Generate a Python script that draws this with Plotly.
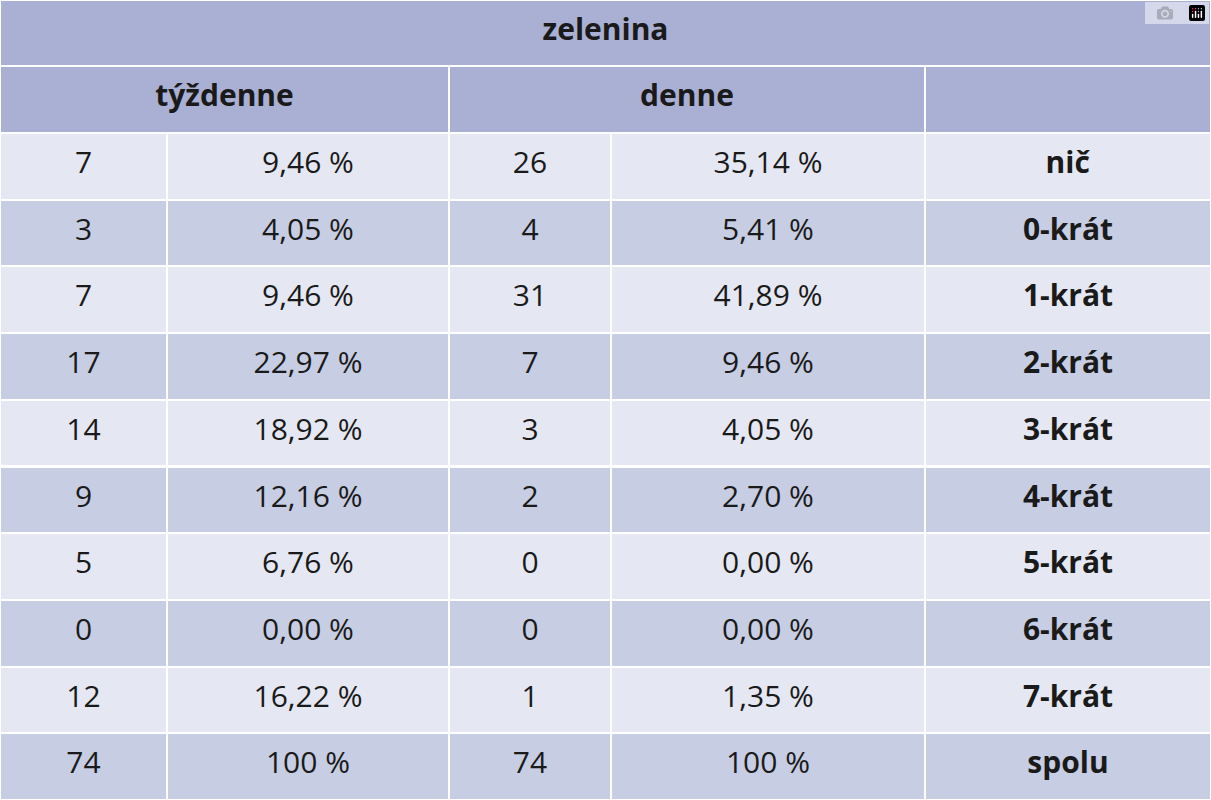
import plotly.graph_objects as go

title = "zelenina"
groups = ["týždenne", "denne", ""]
categories = ["nič", "0-krát", "1-krát", "2-krát", "3-krát", "4-krát", "5-krát", "6-krát", "7-krát", "spolu"]
weekly_n = ["7", "3", "7", "17", "14", "9", "5", "0", "12", "74"]
weekly_pct = ["9,46 %", "4,05 %", "9,46 %", "22,97 %", "18,92 %", "12,16 %", "6,76 %", "0,00 %", "16,22 %", "100 %"]
daily_n = ["26", "4", "31", "7", "3", "2", "0", "0", "1", "74"]
daily_pct = ["35,14 %", "5,41 %", "41,89 %", "9,46 %", "4,05 %", "2,70 %", "0,00 %", "0,00 %", "1,35 %", "100 %"]

W, H = 1211, 800
HDR = "#a9b0d4"
LIGHT = "#e5e8f2"
DARK = "#c7cde3"
FONT = "Open Sans"
rowh = 66.7

def sp(v):
    return "<span>%s</span>" % v

cols = [[sp(v) for v in weekly_n], [sp(v) for v in weekly_pct], [sp(v) for v in daily_n],
        [sp(v) for v in daily_pct], ["<b>%s</b>" % c for c in categories]]
fills = [LIGHT if i % 2 == 0 else DARK for i in range(len(categories))]

fig = go.Figure()
fig.add_trace(go.Table(
    domain=dict(x=[0, 1], y=[1 - 66 / H, 1]),
    header=dict(values=["<b>%s</b>" % title], fill_color=HDR, line=dict(color="white", width=2),
                font=dict(family=FONT, size=30, color="#1a1a1a"), height=66, align="center"),
    cells=dict(values=[[]])))
fig.add_trace(go.Table(
    domain=dict(x=[0, 1], y=[1 - 133 / H, 1 - 66 / H]),
    columnwidth=[449, 476, 286],
    header=dict(values=["<b>%s</b>" % g if g else "" for g in groups], fill_color=HDR,
                line=dict(color="white", width=2),
                font=dict(family=FONT, size=30, color="#1a1a1a"), height=67, align="center"),
    cells=dict(values=[[], [], []])))
fig.add_trace(go.Table(
    domain=dict(x=[0, 1], y=[0, 1 - 133 / H]),
    columnwidth=[167, 282, 162, 314, 286],
    header=dict(values=[c[0] for c in cols], fill_color=fills[0], line=dict(color="white", width=2),
                font=dict(family=FONT, size=30, color="#1a1a1a"), height=rowh, align="center"),
    cells=dict(values=[c[1:] for c in cols], fill_color=[fills[1:]] * 5,
               line=dict(color="white", width=2),
               font=dict(family=FONT, size=30, color="#1a1a1a"), height=rowh, align="center")))
fig.update_layout(width=W, height=H, margin=dict(l=0, r=0, t=0, b=0), paper_bgcolor="white")
fig.write_html("out.html", post_script="document.body.style.margin='0';")
